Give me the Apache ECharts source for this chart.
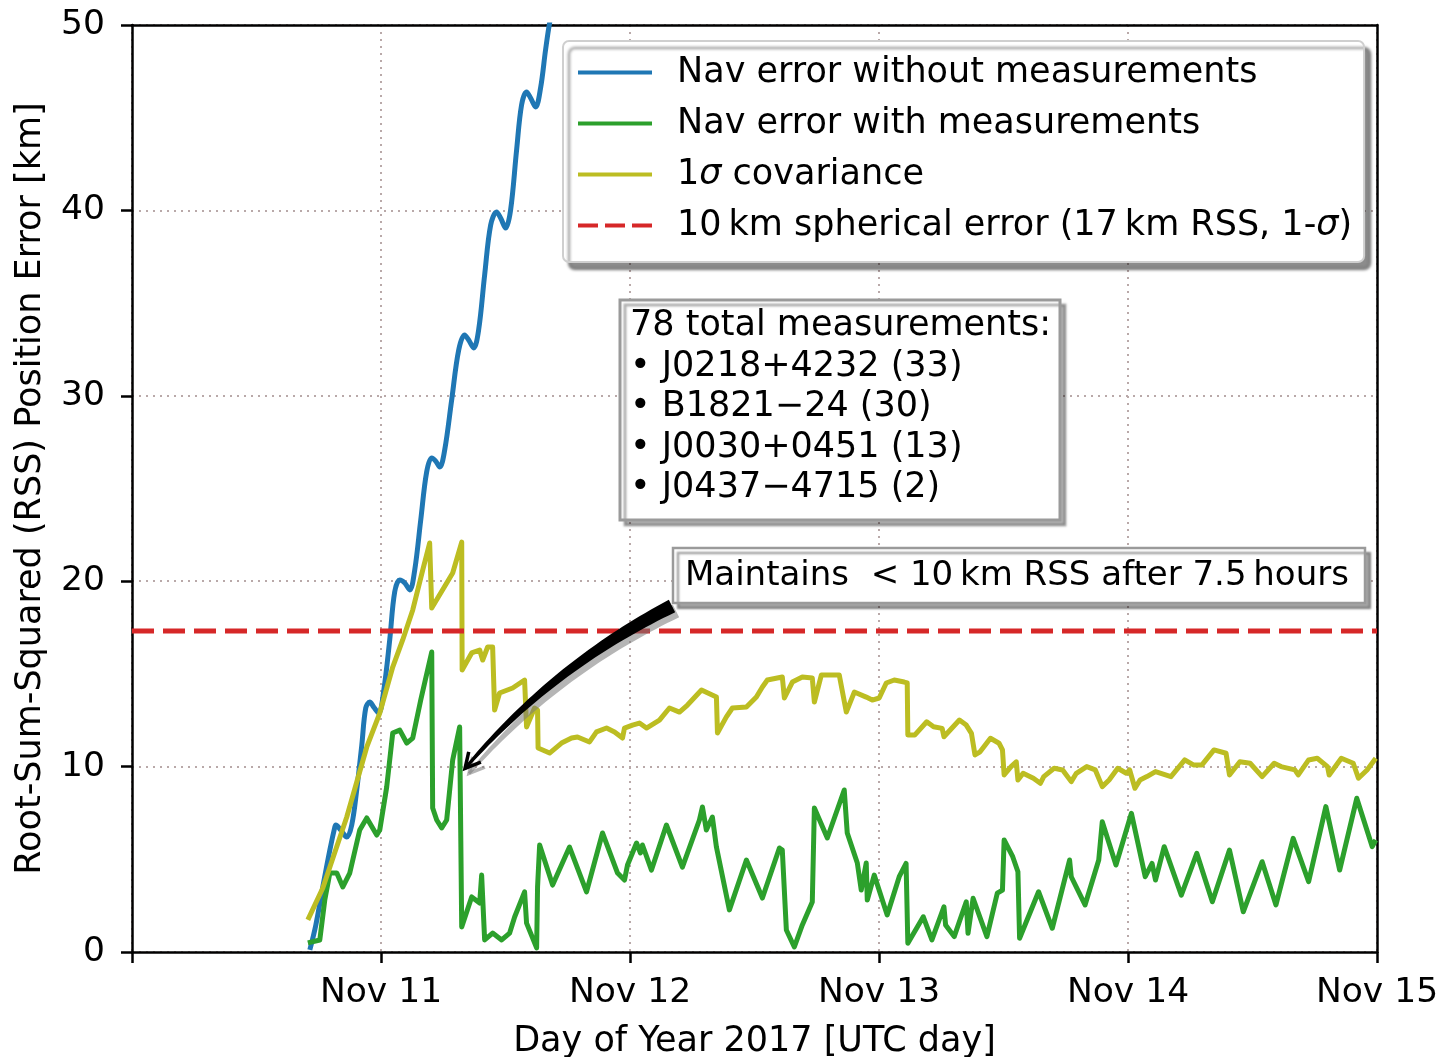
<!DOCTYPE html>
<html>
<head>
<meta charset="utf-8">
<script src="https://cdn.jsdelivr.net/npm/echarts@6/dist/echarts.min.js"></script>
<style>
  html, body { margin: 0; padding: 0; background: #ffffff; }
  #chart { width: 1439px; height: 1057px; }
</style>
</head>
<body>
<div id="chart"></div>
<script>
// Time axis: hours since 2017-11-10 00:00 UTC.  Values: RSS position error in km.

const dayTickLabels = ['', 'Nov 11', 'Nov 12', 'Nov 13', 'Nov 14', 'Nov 15'];

// Navigation error without pulsar measurements (dead-reckoned drift)
const blueHours = [17.14, 17.72, 18.39, 19.07, 19.55, 19.64, 20.12, 20.70, 21.18, 21.66, 22.15, 22.53, 22.92, 23.30, 23.78,
  24.27, 24.84, 25.32, 25.81, 26.29, 26.77, 27.25, 27.83, 28.40, 28.89, 29.27, 29.66, 30.14, 30.81, 31.49, 32.06, 32.45,
  32.93, 33.41, 33.99, 34.57, 35.14, 35.53, 36.01, 36.49, 37.07, 37.55, 38.03, 38.42, 38.90, 39.38, 39.86, 40.25, 40.73];
const blueKm = [0.11, 1.46, 3.51, 5.50, 6.74, 6.85, 6.58, 6.20, 6.85, 8.74, 11.17, 13.16, 13.48, 13.21, 12.89,
  14.13, 16.83, 19.42, 20.06, 19.90, 19.53, 20.60, 23.30, 25.89, 26.65, 26.48, 26.16, 27.08, 29.77, 32.47, 33.28, 33.01,
  32.58, 33.55, 36.52, 39.21, 39.91, 39.59, 39.05, 40.02, 43.26, 45.69, 46.39, 46.06, 45.58, 46.60, 48.65, 50.11, 51.35];

// Navigation error with pulsar measurements
const greenHours = [16.95, 18.10, 18.58, 19.07, 19.74, 20.32, 20.99, 21.95, 22.63, 23.59, 23.88, 24.55, 25.13, 25.81, 26.48,
  27.06, 27.83, 28.89, 28.98, 29.37, 29.85, 30.33, 30.91, 31.58, 31.78, 32.74, 33.51, 33.70, 33.99, 34.76, 35.63, 36.40,
  36.88, 37.84, 38.03, 39.00, 39.09, 39.29, 40.54, 42.17, 43.81, 45.35, 46.80, 47.47, 47.76, 48.63, 49.01, 49.20, 50.07,
  51.51, 53.05, 54.69, 54.98, 55.36, 55.94, 56.33, 57.58, 59.22, 60.76, 62.40, 62.68, 63.07, 63.84, 64.61, 65.57, 65.77,
  67.02, 68.65, 68.94, 69.91, 70.29, 70.77, 70.87, 71.54, 72.79, 73.95, 74.61, 74.78, 76.27, 77.10, 78.26, 78.42, 79.25,
  80.41, 80.58, 81.07, 82.40, 83.40, 83.90, 84.06, 84.89, 85.39, 85.55, 87.38, 88.70, 90.37, 90.53, 91.86, 93.18, 93.52,
  94.84, 96.33, 97.66, 98.32, 98.65, 99.49, 101.14, 102.63, 104.13, 105.78, 107.11, 108.93, 110.26, 111.92, 113.41,
  115.07, 116.40, 118.05, 119.54, 119.88];
const greenKm = [0.49, 0.65, 2.80, 4.26, 4.26, 3.51, 4.26, 6.58, 7.23, 6.31, 6.58, 8.90, 11.81, 11.97, 11.27,
  11.54, 13.59, 16.18, 7.77, 7.12, 6.69, 7.12, 10.36, 12.14, 1.35, 2.97, 2.64, 4.15, 0.65, 1.02, 0.65, 1.02,
  1.89, 3.24, 1.56, 0.22, 3.51, 5.77, 3.61, 5.66, 3.24, 6.42, 4.26, 3.88, 4.69, 5.88, 5.34, 5.77, 4.42,
  6.85, 4.58, 7.12, 7.82, 6.58, 7.28, 5.66, 2.27, 4.96, 2.91, 5.61, 5.50, 1.19, 0.27, 1.46, 2.70, 7.77,
  6.15, 8.74, 6.42, 4.80, 3.34, 4.80, 2.80, 4.15, 2.00, 4.06, 4.78, 0.47, 1.90, 0.65, 2.44, 1.46, 0.83,
  2.71, 1.01, 2.90, 0.83, 3.17, 3.34, 6.04, 5.14, 4.33, 0.74, 3.25, 1.28, 4.96, 4.06, 2.54, 4.96, 7.03,
  4.69, 7.48, 4.06, 4.78, 3.88, 5.68, 3.07, 5.32, 2.71, 5.50, 2.17, 4.87, 2.54, 6.13, 3.79,
  7.84, 4.42, 8.29, 5.68, 6.04];

// Filter 1-sigma covariance (RSS)
const sigmaHours = [16.95, 18.39, 20.70, 22.63, 23.88, 25.13, 26.09, 27.06, 28.02, 28.69, 28.89, 30.91, 31.78, 31.82,
  32.74, 33.51, 33.80, 34.28, 34.76, 34.95, 35.43, 36.69, 37.84, 38.03, 38.80, 39.09, 39.14, 40.25, 41.40, 42.37, 42.94,
  44.10, 44.77, 45.74, 46.51, 47.28, 47.47, 48.24, 48.91, 49.59, 50.84, 51.80, 52.77, 53.54, 54.89, 56.33, 56.43, 57.29,
  57.87, 59.22, 60.18, 60.76, 61.24, 62.68, 62.88, 63.65, 64.61, 65.57, 65.77, 66.44, 68.17, 68.85, 69.62, 70.77, 71.35,
  72.02, 72.70, 73.47, 74.43, 74.72, 74.78, 75.44, 76.60, 77.26, 78.09, 78.26, 79.75, 80.41, 80.91, 81.25, 81.74, 82.74,
  83.57, 83.90, 84.06, 84.73, 85.23, 85.39, 85.89, 86.88, 87.55, 87.88, 88.88, 89.70, 90.53, 91.02, 92.02, 92.85, 93.52,
  94.18, 95.01, 95.84, 96.16, 96.67, 97.16, 97.82, 98.65, 100.14, 101.47, 102.30, 103.13, 104.29, 105.45, 105.78,
  106.78, 107.77, 108.93, 110.09, 110.75, 112.08, 112.41, 113.41, 114.24, 115.23, 115.39, 116.56, 117.71, 118.21,
  119.04, 119.88];
const sigmaKm = [1.73, 3.45, 7.28, 11.06, 12.89, 15.37, 16.83, 18.45, 20.60, 22.06, 18.55, 20.44, 22.11, 15.21,
  16.13, 16.29, 15.75, 16.45, 16.45, 13.05, 13.97, 14.24, 14.67, 12.14, 13.16, 13.05, 11.00, 10.73, 11.27, 11.54, 11.60,
  11.33, 11.87, 12.08, 11.87, 11.54, 12.08, 12.24, 12.35, 12.08, 12.51, 13.16, 12.94, 13.32, 14.13, 13.75, 11.81, 12.68,
  13.16, 13.21, 13.75, 14.29, 14.67, 14.83, 13.70, 14.56, 14.83, 14.78, 13.48, 14.94, 14.94, 12.94, 14.02, 13.75, 13.59,
  13.70, 14.51, 14.67, 14.56, 14.51, 11.70, 11.70, 12.42, 12.15, 12.06, 11.61, 12.51, 12.24, 11.79, 10.63, 10.80, 11.53,
  11.26, 10.90, 9.55, 10.00, 10.26, 9.28, 9.64, 9.37, 9.10, 9.46, 9.91, 9.82, 9.19, 9.64, 10.00, 9.82, 8.92,
  9.28, 9.91, 9.64, 9.82, 8.83, 9.28, 9.46, 9.73, 9.46, 10.36, 10.09, 10.09, 10.90, 10.72, 9.55,
  10.26, 10.18, 9.46, 10.18, 10.00, 9.82, 9.55, 10.36, 10.45, 10.00, 9.55, 10.45, 10.18, 9.37,
  9.82, 10.45];

// 10 km per axis spherical error expressed as RSS: 10 * sqrt(3)
const thresholdHours = [0, 120];
const thresholdKm = [17.32, 17.32];

const seriesNames = [
  'Nav error without measurements',
  'Nav error with measurements',
  '1σ covariance',
  '10\u2009km spherical error (17\u2009km RSS, 1-σ)'
];

const pulsarNames = ['J0218+4232', 'B1821\u221224', 'J0030+0451', 'J0437\u22124715'];
const pulsarCounts = [33, 30, 13, 2];

const noteText = 'Maintains  < 10\u2009km RSS after 7.5\u2009hours';
// point the annotation arrow lands on (hours, km)
const noteTarget = [32.1, 9.9];

const FONT = 'DejaVu Sans';
const TXT = 35;
const LINE_W = 5;
const zip = (xs, ys) => xs.map((x, i) => [x, ys[i]]);

const chart = echarts.init(document.getElementById('chart'), null, { renderer: 'canvas' });

// legend keys: solid bar for the solid lines, three dashes for the threshold
const solidKey = 'rect';
const dashedKey = 'path://M0,0h20v4h-20z M27,0h20v4h-20z M54,0h20v4h-20z';

const legendRich = {
  s: { fontFamily: FONT, fontStyle: 'italic', fontSize: TXT, lineHeight: TXT, color: '#000' }
};
function legendLabel(name) {
  return name.replace('σ', '{s|σ}');
}

const hiddenAxisBits = {
  axisTick: { show: false }, axisLabel: { show: false }, splitLine: { show: false }
};

chart.setOption({
  animation: false,
  backgroundColor: '#ffffff',
  grid: { left: 132, right: 62, top: 25, bottom: 105, outerBoundsMode: 'none', containLabel: false },
  legend: {
    orient: 'vertical',
    left: 563, top: 41,
    padding: [14, 12, 19, 15],
    itemWidth: 74, itemHeight: 4, itemGap: 16,
    backgroundColor: '#ffffff',
    borderColor: '#cfcfcf', borderWidth: 2, borderRadius: 6,
    shadowColor: 'rgba(0,0,0,0.45)', shadowBlur: 3, shadowOffsetX: 6, shadowOffsetY: 7,
    selectedMode: false,
    data: seriesNames.map((n, i) => ({ name: n, icon: i === 3 ? dashedKey : solidKey })),
    formatter: legendLabel,
    textStyle: {
      fontFamily: FONT, fontSize: TXT, lineHeight: TXT, color: '#000',
      padding: [0, 0, 0, 20],
      rich: legendRich
    }
  },
  xAxis: [{
    type: 'value', min: 0, max: 120, interval: 24,
    name: 'Day of Year 2017 [UTC day]', nameLocation: 'middle', nameGap: 72,
    nameTextStyle: { fontFamily: FONT, fontSize: TXT, color: '#000' },
    axisLine: { show: true, onZero: false, lineStyle: { color: '#000', width: 2.5 } },
    axisTick: { show: true, inside: false, length: 11, lineStyle: { color: '#000', width: 2.5 } },
    axisLabel: {
      fontFamily: FONT, fontSize: 34.5, color: '#000', margin: 24,
      formatter: v => dayTickLabels[Math.round(v / 24)] || ''
    },
    splitLine: { show: true, lineStyle: { color: '#b9a9a9', width: 2, type: [2, 5] } }
  }, Object.assign({
    type: 'value', min: 0, max: 120, position: 'top',
    axisLine: { show: true, onZero: false, lineStyle: { color: '#000', width: 2.5 } }
  }, hiddenAxisBits)],
  yAxis: [{
    type: 'value', min: 0, max: 50, interval: 10,
    name: 'Root-Sum-Squared (RSS) Position Error [km]', nameLocation: 'middle', nameGap: 84,
    nameTextStyle: { fontFamily: FONT, fontSize: TXT, color: '#000' },
    axisLine: { show: true, onZero: false, lineStyle: { color: '#000', width: 2.5 } },
    axisTick: { show: true, inside: false, length: 11, lineStyle: { color: '#000', width: 2.5 } },
    axisLabel: { fontFamily: FONT, fontSize: 34.5, color: '#000', margin: 27 },
    splitLine: { show: true, lineStyle: { color: '#b9a9a9', width: 2, type: [2, 5] } }
  }, Object.assign({
    type: 'value', min: 0, max: 50, position: 'right',
    axisLine: { show: true, onZero: false, lineStyle: { color: '#000', width: 2.5 } }
  }, hiddenAxisBits)],
  series: [
    {
      name: seriesNames[0], type: 'line', data: zip(blueHours, blueKm),
      showSymbol: false, symbol: 'none', smooth: 0.35, clip: true,
      lineStyle: { color: '#1f77b4', width: LINE_W }, itemStyle: { color: '#1f77b4' }, z: 2
    },
    {
      name: seriesNames[1], type: 'line', data: zip(greenHours, greenKm),
      showSymbol: false, symbol: 'none', clip: true,
      lineStyle: { color: '#2ca02c', width: LINE_W, join: 'round' }, itemStyle: { color: '#2ca02c' }, z: 3
    },
    {
      name: seriesNames[2], type: 'line', data: zip(sigmaHours, sigmaKm),
      showSymbol: false, symbol: 'none', clip: true,
      lineStyle: { color: '#bcbd22', width: LINE_W, join: 'round' }, itemStyle: { color: '#bcbd22' }, z: 4
    },
    {
      name: seriesNames[3], type: 'line', data: zip(thresholdHours, thresholdKm),
      showSymbol: false, symbol: 'none', clip: true,
      lineStyle: { color: '#d62728', width: LINE_W, type: [22, 9] }, itemStyle: { color: '#d62728' }, z: 5
    }
  ]
});

// ---- annotation boxes and arrow ----
const measBox = { x: 620, y: 300, w: 440, h: 220 };
const noteBox = { x: 673, y: 548, w: 692, h: 55 };

const measLines = [pulsarCounts.reduce((a, b) => a + b, 0) + ' total measurements:']
  .concat(pulsarNames.map((n, i) => '\u2022 ' + n + ' (' + pulsarCounts[i] + ')'));

function arrowGraphics(p0, p2) {
  const dx = p2[0] - p0[0], dy = p2[1] - p0[1];
  const rad = 0.1;
  const c = [(p0[0] + p2[0]) / 2 - rad * dy, (p0[1] + p2[1]) / 2 + rad * dx];
  const left = [], right = [];
  const N = 40;
  for (let i = 0; i <= N; i++) {
    const t = i / N;
    const a = (1 - t) * (1 - t), b = 2 * (1 - t) * t, d = t * t;
    const px = a * p0[0] + b * c[0] + d * p2[0];
    const py = a * p0[1] + b * c[1] + d * p2[1];
    const tx = 2 * (1 - t) * (c[0] - p0[0]) + 2 * t * (p2[0] - c[0]);
    const ty = 2 * (1 - t) * (c[1] - p0[1]) + 2 * t * (p2[1] - c[1]);
    const len = Math.hypot(tx, ty);
    const nx = -ty / len, ny = tx / len;
    const hw = 7 * (1 - t) + 1.5 * t;
    left.push([px + nx * hw, py + ny * hw]);
    right.push([px - nx * hw, py - ny * hw]);
  }
  const poly = left.concat(right.reverse());
  const shadowPoly = poly.map(p => [p[0] + 4, p[1] + 5]);
  // head direction at the tip
  const hx = p2[0] - c[0], hy = p2[1] - c[1];
  const hl = Math.hypot(hx, hy);
  const ux = hx / hl, uy = hy / hl;
  const ang = 28 * Math.PI / 180, L = 17;
  const arm = s => [p2[0] - L * (ux * Math.cos(ang) - s * uy * Math.sin(ang)),
                    p2[1] - L * (uy * Math.cos(ang) + s * ux * Math.sin(ang))];
  const head = [arm(1), p2, arm(-1)];
  const shadowHead = head.map(p => [p[0] + 4, p[1] + 5]);
  return [
    { type: 'polygon', z: 60, shape: { points: shadowPoly }, style: { fill: 'rgba(120,120,120,0.55)' } },
    { type: 'polyline', z: 60, shape: { points: shadowHead }, style: { stroke: 'rgba(120,120,120,0.55)', lineWidth: 3.5, fill: null } },
    { type: 'polygon', z: 61, shape: { points: poly }, style: { fill: '#000' } },
    { type: 'polyline', z: 61, shape: { points: head }, style: { stroke: '#000', lineWidth: 3.5, fill: null, lineJoin: 'miter' } }
  ];
}

const tip = chart.convertToPixel({ gridIndex: 0 }, noteTarget);
const tail = [noteBox.x - 1, noteBox.y + noteBox.h + 3];

chart.setOption({
  graphic: [
    // measurement summary box
    { type: 'rect', z: 50,
      shape: { x: measBox.x, y: measBox.y, width: measBox.w, height: measBox.h },
      style: { fill: '#fff', stroke: '#9a9a9a', lineWidth: 3,
               shadowColor: 'rgba(0,0,0,0.3)', shadowBlur: 2, shadowOffsetX: 5, shadowOffsetY: 5 } },
    { type: 'text', z: 51, x: measBox.x + 10, y: measBox.y + 6,
      style: { text: measLines.join('\n'), fontFamily: FONT, fontSize: TXT, lineHeight: 40.5, fill: '#000' } },
    // note box
    { type: 'rect', z: 50,
      shape: { x: noteBox.x, y: noteBox.y, width: noteBox.w, height: noteBox.h },
      style: { fill: '#fff', stroke: '#9a9a9a', lineWidth: 2.5,
               shadowColor: 'rgba(0,0,0,0.35)', shadowBlur: 2, shadowOffsetX: 5, shadowOffsetY: 5 } },
    { type: 'text', z: 51, x: noteBox.x + 12, y: noteBox.y + noteBox.h / 2 + 1,
      style: { text: noteText, fontFamily: FONT, fontSize: 34, fill: '#000', verticalAlign: 'middle' } }
  ].concat(arrowGraphics(tail, tip))
});
</script>
</body>
</html>
